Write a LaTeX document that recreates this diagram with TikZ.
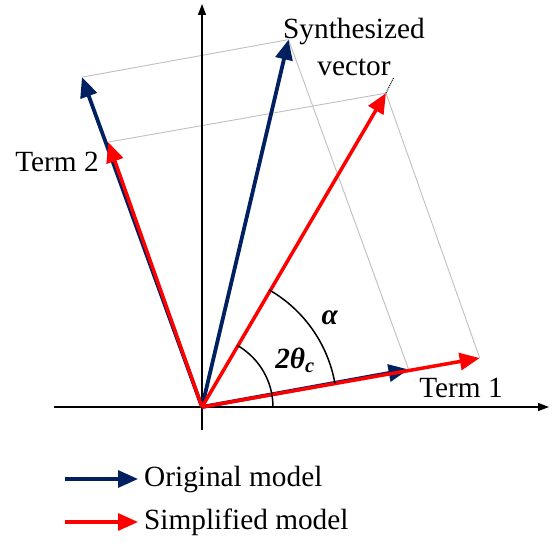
\documentclass[tikz,border=0pt]{standalone}
\usepackage{fontspec}
\setmainfont{Liberation Serif}
\usetikzlibrary{arrows.meta,calc}
\definecolor{origblue}{HTML}{002060}
\definecolor{simpred}{HTML}{FF0000}
\definecolor{guidegray}{HTML}{BFBFBF}
\begin{document}
\begin{tikzpicture}[x=1pt,y=1pt,
  axis/.style={line width=1.2pt,-{Triangle[length=11pt,width=8pt]}},
  bluevec/.style={draw=origblue,line width=3.8pt,-{Triangle[length=20pt,width=17pt]}},
  redvec/.style={draw=simpred,line width=3.5pt,-{Triangle[length=20pt,width=17pt]}},
  guide/.style={draw=guidegray,line width=0.9pt},
  angarc/.style={draw=black,line width=1.5pt},
  lbl/.style={font=\fontsize{29.3}{37}\selectfont,inner sep=0pt}]
\useasboundingbox (0,0) rectangle (557,542);
% points
\coordinate (O) at (202,135);
\coordinate (B1) at ($(O)+(10.3:210)$);
\coordinate (B2) at ($(O)+(110:351)$);
\coordinate (BS) at ($(B1)+(B2)-(O)$);
\coordinate (R1) at ($(O)+(10:282)$);
\coordinate (R2) at ($(O)+(109.5:281)$);
\coordinate (RS) at ($(R1)+(R2)-(O)$);
\coordinate (lead) at ($(RS)+(8,16)$);
\coordinate (xl) at (54,135);
\coordinate (xr) at (549,135);
\coordinate (yb) at (202,112);
\coordinate (yt) at (202,538);
% guides
\draw[guide] (B2) -- (BS) -- (B1);
\draw[guide] (R2) -- (RS) -- (R1);
% axes
\draw[axis] (xl) -- (xr);
\draw[axis] (yb) -- (yt);
% vectors
\draw[bluevec] (O) -- (B1);
\draw[bluevec] (O) -- (B2);
\draw[bluevec] (O) -- (BS);
\draw[redvec] (O) -- (R1);
\draw[redvec] (O) -- (R2);
\draw[redvec] (O) -- (RS);
\draw[densely dotted,line width=1pt] (RS) -- (lead);
% angle arcs
\draw[angarc] ($(O)+(0:71)$) arc[start angle=0,end angle=60,radius=71];
\draw[angarc] ($(O)+(10:135)$) arc[start angle=10,end angle=60,radius=135];
% labels
\node[lbl] (t1) at (461,154) {Term 1};
\node[lbl] (t2) at (57,380) {Term 2};
\node[lbl,align=center] (sv) at (354,495.5) {Synthesized\\vector};
\node[lbl] (al) at (330,224) {\textbf{\textit{α}}};
\node[lbl] (th) at (295,182) {\textbf{\textit{2θ\textsubscript{c}}}};
% legend
\coordinate (l1a) at (65,63);
\coordinate (l1b) at (138,63);
\coordinate (l2a) at (65,20);
\coordinate (l2b) at (138,20);
\draw[bluevec,line width=3.2pt] (l1a) -- (l1b);
\draw[redvec,line width=3.2pt] (l2a) -- (l2b);
\node[lbl,anchor=west] (lg1) at (144,63) {Original model};
\node[lbl,anchor=west] (lg2) at (144,20) {Simplified model};
\end{tikzpicture}
\end{document}
